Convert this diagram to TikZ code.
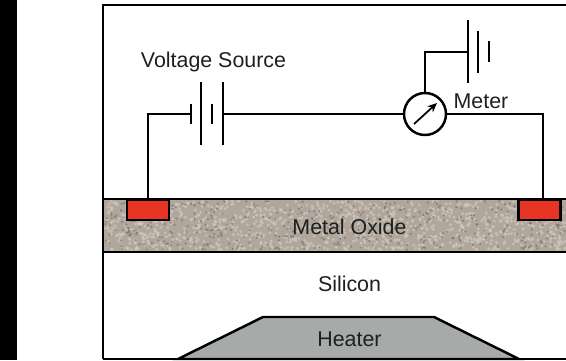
\documentclass[tikz,border=0pt]{standalone}
\usepackage{xcolor}
\usepackage{fontspec}
\setmainfont{Liberation Sans}
\usepackage{tikz}
\usetikzlibrary{arrows.meta, positioning, calc}
\definecolor{oxidebase}{RGB}{176,166,156}
\definecolor{oxidelight}{RGB}{208,200,190}
\definecolor{oxidedark}{RGB}{112,104,98}
\definecolor{contactred}{RGB}{232,52,36}
\definecolor{heatergrey}{RGB}{166,170,168}
\definecolor{textblack}{RGB}{28,32,32}
\tikzset{
  wire/.style={line width=1.9pt, line join=miter},
  layer/.style={line width=2.1pt},
  label/.style={font=\fontsize{18.25}{22}\selectfont, text=textblack, inner sep=0pt},
  contact/.style={draw=black, line width=2.1pt, fill=contactred, minimum width=42*0.03cm, minimum height=20*0.03cm, inner sep=0pt},
  meter/.style={draw=black, line width=2.1pt, fill=white, circle, minimum size=42*0.03cm, inner sep=0pt}
}
\begin{document}
\begin{tikzpicture}[>=Stealth, x=0.03cm, y=-0.03cm]
  \useasboundingbox (0,0) rectangle (566,360);
  % Black strip at the left
  \fill[black] (0,0) rectangle (17,360);
  % Metal oxide layer
  \fill[oxidebase] (103,199) rectangle (566,252);
  \pgfmathsetseed{42}
  \foreach \i in {1,...,1100}{
    \pgfmathsetmacro{\px}{105+rnd*460}
    \pgfmathsetmacro{\py}{201+rnd*49}
    \fill[oxidelight, opacity=0.75] (\px,\py) circle (1.6);
  }
  \foreach \i in {1,...,420}{
    \pgfmathsetmacro{\px}{105+rnd*460}
    \pgfmathsetmacro{\py}{201+rnd*49}
    \fill[oxidedark, opacity=0.6] (\px,\py) circle (1.2);
  }
  % Heater
  \filldraw[fill=heatergrey, draw=black, layer] (178,359) -- (263,317) -- (434,317) -- (519,359) -- cycle;
  % Frame and layers
  \draw[layer] (103,359) -- (103,5) -- (566,5);
  \draw[layer] (103,359) -- (566,359);
  \draw[layer] (103,199) -- (566,199);
  \draw[layer] (103,252) -- (566,252);
  % Contacts
  \node[contact] (leftpad) at (148,210) {};
  \node[contact] (rightpad) at (539.5,210) {};
  % Meter
  \node[meter] (gauge) at (425,114) {};
  \draw[->, line width=1.5pt, >={Stealth[length=8pt, width=7pt]}] ($(gauge)+(-11,10)$) -- ($(gauge)+(12,-11)$);
  % Source battery
  \coordinate (srcA) at (191,114);
  \coordinate (srcD) at (223,114);
  \draw[wire] (191,104) -- (191,124);
  \draw[wire] (201,82) -- (201,145);
  \draw[wire] (212,104) -- (212,124);
  \draw[wire] (223,82) -- (223,145);
  % Meter battery
  \coordinate (batA) at (468,52);
  \draw[wire] (468,20) -- (468,83);
  \draw[wire] (478,31) -- (478,73);
  \draw[wire] (489,41) -- (489,62);
  % Wires
  \draw[wire] (leftpad.north) -- (148,114) -- (srcA);
  \draw[wire] (srcD) -- (gauge.west);
  \draw[wire] (gauge.north) -- (425,52) -- (batA);
  \draw[wire] (gauge.east) -- (543,114) -- (543,199);
  % Labels
  \node[label] (vsource) at (213.5,62) {Voltage Source};
  \node[label] (meterlab) at (481,101) {Meter};
  \node[label] (oxide) at (349.5,226.5) {Metal Oxide};
  \node[label] (silicon) at (349.5,284) {Silicon};
  \node[label] (heater) at (349.5,339.5) {Heater};
\end{tikzpicture}
\end{document}
